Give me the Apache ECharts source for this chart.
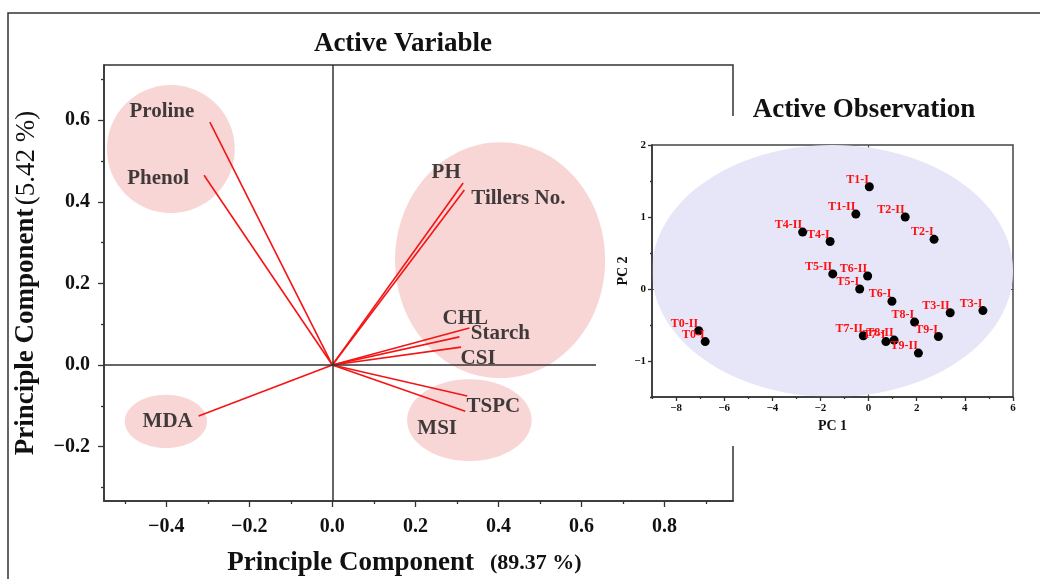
<!DOCTYPE html>
<html>
<head>
<meta charset="utf-8">
<script src="https://cdn.jsdelivr.net/npm/echarts@6.0.0/dist/echarts.min.js"></script>
<style>
  html, body { margin: 0; padding: 0; background: #fff; }
  #main { width: 1040px; height: 579px; }
</style>
</head>
<body>
<div id="main"></div>
<script>
// loadings (active variables)
const varNames = ['Proline', 'Phenol', 'MDA', 'PH', 'Tillers No.', 'CHL', 'Starch', 'CSI', 'TSPC', 'MSI'];
const pc1Load = [-0.295, -0.309, -0.322, 0.315, 0.318, 0.330, 0.306, 0.310, 0.325, 0.320];
const pc2Load = [0.595, 0.465, -0.125, 0.446, 0.429, 0.091, 0.069, 0.044, -0.076, -0.113];

// shaded groups: centre x, centre y, radius x, radius y
const varGroups = [
    [-0.389, 0.529, 0.154, 0.157],
    [-0.401, -0.138, 0.099, 0.065],
    [0.404, 0.257, 0.253, 0.289],
    [0.330, -0.135, 0.150, 0.100]
];

// scores (active observations)
const obsNames = ['T1-I', 'T1-II', 'T2-II', 'T2-I', 'T4-II', 'T4-I', 'T5-II', 'T6-II', 'T5-I', 'T6-I',
                  'T3-II', 'T3-I', 'T8-I', 'T9-I', 'T0-II', 'T0-I', 'T7-II', 'T7-I', 'T8-II', 'T9-II'];
const pc1Score = [0.03, -0.53, 1.52, 2.72, -2.74, -1.60, -1.49, -0.04, -0.37, 0.97,
                  3.39, 4.75, 1.91, 2.90, -7.06, -6.79, -0.22, 0.72, 1.06, 2.07];
const pc2Score = [1.42, 1.04, 1.00, 0.69, 0.79, 0.66, 0.21, 0.18, 0.00, -0.17,
                  -0.33, -0.30, -0.46, -0.66, -0.58, -0.73, -0.65, -0.73, -0.71, -0.89];
const obsEllipse = [-1.5, 0.25, 7.5, 1.75];

// axis ticks
const mainXTicks = [-0.4, -0.2, 0, 0.2, 0.4, 0.6, 0.8];
const mainXMinor = [-0.5, -0.3, -0.1, 0.1, 0.3, 0.5, 0.7, 0.9];
const mainYTicks = [-0.2, 0, 0.2, 0.4, 0.6];
const mainYMinor = [-0.3, -0.1, 0.1, 0.3, 0.5, 0.7];
const insetXTicks = [-8, -6, -4, -2, 0, 2, 4, 6];
const insetXMinor = [-9, -7, -5, -3, -1, 1, 3, 5];
const insetYTicks = [-1, 0, 1, 2];
const insetYMinor = [-1.5, -0.5, 0.5, 1.5];

// label placement for the variable names (pixels, relative to arrow tip)
const varLabelShift = [[-48, -11], [-46, 3], [-31, 5], [-17, -10], [54, 9], [-4, -9], [41, -3], [17, 11], [26, 10], [-28, 17]];

const serif = '"Liberation Serif", "Times New Roman", serif';
const minus = v => (v < 0 ? '\u2212' : '') + Math.abs(v);
const minus1 = v => (v < 0 ? '\u2212' : '') + Math.abs(v).toFixed(1);

const chart = echarts.init(document.getElementById('main'));

function ellipseItem(params, api) {
    const c = api.coord([api.value(0), api.value(1)]);
    const s = api.size([api.value(2), api.value(3)]);
    return {
        type: 'ellipse',
        shape: { cx: c[0], cy: c[1], rx: s[0], ry: s[1] },
        style: { fill: api.visual('color') }
    };
}

// axis carrying the line and the labels
function labelAxis(grid, min, max, ticks, fmt, opts) {
    return Object.assign({
        type: 'value', gridIndex: grid, min: min, max: max,
        splitLine: { show: false },
        axisLine: { show: true, onZero: false, lineStyle: { color: '#333', width: 1.5 } },
        axisTick: { show: false },
        axisLabel: { customValues: ticks, formatter: fmt, color: '#111', fontFamily: serif, fontWeight: 'bold', fontSize: opts.font, margin: opts.margin }
    }, opts.extra || {});
}

// axis carrying only tick marks
function tickAxis(grid, min, max, ticks, pos, len, z) {
    return {
        type: 'value', gridIndex: grid, min: min, max: max, position: pos, z: z,
        splitLine: { show: false },
        axisLine: { show: false, onZero: false },
        axisTick: { show: true, inside: false, length: len, customValues: ticks, lineStyle: { color: '#333', width: 1.3 } },
        axisLabel: { show: false }
    };
}

const vectorSeries = varNames.map((n, i) => ({
    type: 'line', xAxisIndex: 0, yAxisIndex: 0, name: n,
    data: [[0, 0], [pc1Load[i], pc2Load[i]]],
    symbol: 'none', silent: true, z: 3,
    lineStyle: { color: '#f51414', width: 1.6 }
}));

option = {
    animation: false,
    backgroundColor: '#fff',
    grid: [
        { left: 104, right: 307, top: 65, bottom: 78, outerBoundsMode: 'none', containLabel: false,
          show: true, borderColor: '#333', borderWidth: 1.5, backgroundColor: 'transparent' },
        { left: 652, right: 27, top: 145, bottom: 182, outerBoundsMode: 'none', containLabel: false,
          show: true, borderColor: '#444', borderWidth: 1.5, backgroundColor: 'transparent', z: 10 }
    ],
    xAxis: [
        labelAxis(0, -0.55, 0.965, mainXTicks, minus1, {
            font: 20, margin: 16,
            extra: {
                position: 'bottom',
                name: '{a|Principle Component}{b|(89.37 %)}', nameLocation: 'middle', nameGap: 49,
                nameTextStyle: {
                    padding: [0, 28, 0, 0],
                    rich: {
                        a: { fontFamily: serif, fontWeight: 'bold', fontSize: 27, color: '#111' },
                        b: { fontFamily: serif, fontWeight: 'bold', fontSize: 22, color: '#111', padding: [0, 0, 0, 16] }
                    }
                }
            }
        }),
        tickAxis(0, -0.55, 0.965, mainXTicks, 'bottom', 6, 0),
        tickAxis(0, -0.55, 0.965, mainXMinor, 'bottom', 3, 0),
        labelAxis(1, -9, 6, insetXTicks, minus, {
            font: 11, margin: 6,
            extra: {
                position: 'bottom', z: 12,
                name: 'PC 1', nameLocation: 'middle', nameGap: 22,
                nameTextStyle: { fontFamily: serif, fontWeight: 'bold', fontSize: 14, color: '#111' }
            }
        }),
        tickAxis(1, -9, 6, insetXTicks, 'bottom', 4, 12),
        tickAxis(1, -9, 6, insetXMinor, 'bottom', 2, 12)
    ],
    yAxis: [
        labelAxis(0, -0.333, 0.735, mainYTicks, minus1, {
            font: 20, margin: 14,
            extra: {
                position: 'left',
                name: '{a|Principle Component} {b|(5.42 %)}', nameLocation: 'middle', nameGap: 64,
                nameTextStyle: { rich: {
                    a: { fontFamily: serif, fontWeight: 'bold', fontSize: 27, color: '#111' },
                    b: { fontFamily: serif, fontWeight: 'normal', fontSize: 27, color: '#111' }
                } }
            }
        }),
        tickAxis(0, -0.333, 0.735, mainYTicks, 'left', 6, 0),
        tickAxis(0, -0.333, 0.735, mainYMinor, 'left', 3, 0),
        labelAxis(1, -1.5, 2, insetYTicks, minus, {
            font: 11, margin: 6,
            extra: {
                position: 'left', z: 12,
                name: 'PC 2', nameLocation: 'middle', nameGap: 20,
                nameTextStyle: { fontFamily: serif, fontWeight: 'bold', fontSize: 14, color: '#111' }
            }
        }),
        tickAxis(1, -1.5, 2, insetYTicks, 'left', 4, 12),
        tickAxis(1, -1.5, 2, insetYMinor, 'left', 2, 12)
    ],
    graphic: [
        { type: 'rect', z: 0, shape: { x: 8, y: 13, width: 1100, height: 700 }, style: { fill: 'none', stroke: '#333', lineWidth: 1.5 } },
        { type: 'rect', z: 5, shape: { x: 612, y: 116, width: 428, height: 330 }, style: { fill: '#fff' } },
        { type: 'text', z: 20, x: 403, y: 44, style: { text: 'Active Variable', font: 'bold 27px ' + serif, fill: '#111', align: 'center', verticalAlign: 'middle' } },
        { type: 'text', z: 20, x: 864, y: 110, style: { text: 'Active Observation', font: 'bold 27px ' + serif, fill: '#111', align: 'center', verticalAlign: 'middle' } }
    ],
    series: [
        {
            type: 'custom', xAxisIndex: 0, yAxisIndex: 0, z: 1, silent: true,
            itemStyle: { color: 'rgba(247, 196, 196, 0.7)' },
            renderItem: ellipseItem,
            data: varGroups,
            markLine: {
                silent: true, symbol: 'none', label: { show: false },
                lineStyle: { color: '#333', width: 1.5, type: 'solid' },
                data: [
                    [{ coord: [-0.55, 0] }, { coord: [0.635, 0] }],
                    { xAxis: 0 }
                ]
            }
        },
        ...vectorSeries,
        {
            type: 'scatter', xAxisIndex: 0, yAxisIndex: 0, z: 4, silent: true,
            symbolSize: 0,
            data: varNames.map((n, i) => ({
                name: n, value: [pc1Load[i], pc2Load[i]],
                label: { offset: varLabelShift[i] }
            })),
            label: {
                show: true, position: 'inside', formatter: '{b}',
                fontFamily: serif, fontWeight: 'bold', fontSize: 21, color: '#111'
            }
        },
        {
            type: 'custom', xAxisIndex: 3, yAxisIndex: 3, z: 11, silent: true,
            itemStyle: { color: '#e6e6f8' },
            renderItem: ellipseItem,
            data: [obsEllipse],
            markLine: {
                silent: true, symbol: 'none', label: { show: false },
                lineStyle: { color: '#555', width: 1.2, type: 'solid' },
                data: [{ xAxis: 0 }, { yAxis: 0 }]
            }
        },
        {
            type: 'scatter', xAxisIndex: 3, yAxisIndex: 3, z: 13,
            symbol: 'circle', symbolSize: 9,
            itemStyle: { color: '#000', opacity: 1 },
            data: obsNames.map((n, i) => ({ name: n, value: [pc1Score[i], pc2Score[i]] })),
            label: {
                show: true, position: 'left', distance: 0, offset: [4, -7], formatter: '{b}',
                fontFamily: serif, fontWeight: 'bold', fontSize: 12, color: '#ff1010'
            }
        }
    ]
};

chart.setOption(option);
</script>
</body>
</html>
